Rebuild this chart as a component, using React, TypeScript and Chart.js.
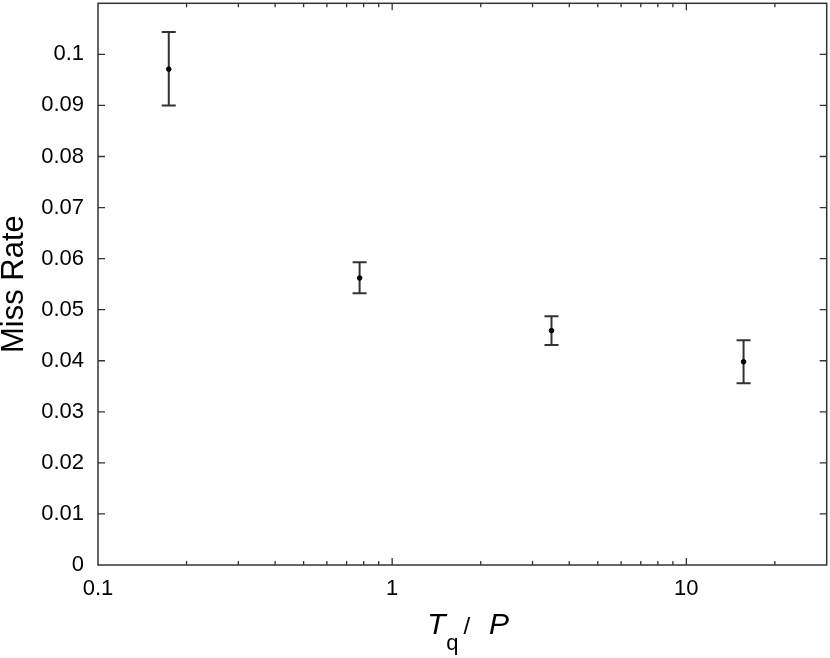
import { useEffect, useRef } from 'react';
import { Chart, registerables } from 'chart.js';

Chart.register(...registerables);

// ---- data ----
const ratioTqP = [0.174, 0.775, 3.48, 15.65];
const missRate = [0.0971, 0.0562, 0.0459, 0.0398];
const missRateLow = [0.0900, 0.0532, 0.0431, 0.0356];
const missRateHigh = [0.1044, 0.0593, 0.0487, 0.0440];
const xMajorTicks = [0.1, 1, 10];
const xTickLabels = ['0.1', '1', '10'];
const yTickValues = [0, 0.01, 0.02, 0.03, 0.04, 0.05, 0.06, 0.07, 0.08, 0.09, 0.1];
const yTickLabels = ['0', '0.01', '0.02', '0.03', '0.04', '0.05', '0.06', '0.07', '0.08', '0.09', '0.1'];

const FONT = '"Liberation Sans", Arial, Helvetica, sans-serif';
const AXIS_COLOR = '#333333';
const BAR_COLOR = '#333333';

const errorBarPlugin = {
  id: 'errorBars',
  beforeDatasetsDraw(chart: any) {
    const { ctx, scales } = chart;
    const xs = scales.x;
    const ys = scales.y;
    ctx.save();
    ctx.strokeStyle = BAR_COLOR;
    ctx.lineWidth = 2;
    const half = 7;
    for (let i = 0; i < ratioTqP.length; i++) {
      const px = xs.getPixelForValue(ratioTqP[i]);
      const pLo = ys.getPixelForValue(missRateLow[i]);
      const pHi = ys.getPixelForValue(missRateHigh[i]);
      ctx.beginPath();
      ctx.moveTo(px, pLo);
      ctx.lineTo(px, pHi);
      ctx.moveTo(px - half, pLo);
      ctx.lineTo(px + half, pLo);
      ctx.moveTo(px - half, pHi);
      ctx.lineTo(px + half, pHi);
      ctx.stroke();
    }
    ctx.restore();
  },
};

const framePlugin = {
  id: 'frameAndTicks',
  afterDraw(chart: any) {
    const { ctx, chartArea, scales } = chart;
    const { left, right, top, bottom } = chartArea;
    const xs = scales.x;
    const ys = scales.y;
    ctx.save();
    ctx.strokeStyle = AXIS_COLOR;
    ctx.lineWidth = 1.5;
    ctx.strokeRect(left, top, right - left, bottom - top);

    ctx.lineWidth = 1.3;
    ctx.beginPath();
    // y ticks (left and right, inward)
    for (const v of yTickValues) {
      const py = ys.getPixelForValue(v);
      if (v === 0) continue;
      ctx.moveTo(left, py);
      ctx.lineTo(left + 7, py);
      ctx.moveTo(right, py);
      ctx.lineTo(right - 7, py);
    }
    // x major ticks
    for (const v of xMajorTicks) {
      const px = xs.getPixelForValue(v);
      if (px <= left + 1) continue;
      ctx.moveTo(px, bottom);
      ctx.lineTo(px, bottom - 7);
      ctx.moveTo(px, top);
      ctx.lineTo(px, top + 7);
    }
    // x minor ticks
    for (const d of xMajorTicks) {
      for (let m = 2; m <= 9; m++) {
        const v = d * m;
        if (v > xs.max + 1e-9) continue;
        const px = xs.getPixelForValue(v);
        if (px >= right - 1) continue;
        ctx.moveTo(px, bottom);
        ctx.lineTo(px, bottom - 4);
        ctx.moveTo(px, top);
        ctx.lineTo(px, top + 4);
      }
    }
    ctx.stroke();

    // x axis title: T_q/ P
    ctx.fillStyle = '#000';
    ctx.textBaseline = 'alphabetic';
    ctx.textAlign = 'left';
    const cx = (left + right) / 2;
    let x = cx - 35;
    const base = 634;
    ctx.font = `italic 30px ${FONT}`;
    ctx.fillText('T', x, base);
    x += ctx.measureText('T').width + 0.5;
    ctx.font = `22px ${FONT}`;
    ctx.fillText('q', x, base + 16);
    x += ctx.measureText('q').width + 5;
    ctx.font = `24px ${FONT}`;
    ctx.fillText('/', x, base);
    x += ctx.measureText('/').width + 19;
    ctx.font = `italic 30px ${FONT}`;
    ctx.fillText('P', x, base);
    ctx.restore();
  },
};

export default function App() {
  const canvasRef = useRef<HTMLCanvasElement | null>(null);

  useEffect(() => {
    const canvas = canvasRef.current;
    if (!canvas) return;
    const chart = new Chart(canvas, {
      type: 'scatter',
      data: {
        datasets: [
          {
            label: 'Miss Rate',
            data: ratioTqP.map((x, i) => ({ x, y: missRate[i] })),
            backgroundColor: '#000',
            borderColor: '#000',
            pointRadius: 2.3,
            pointHoverRadius: 2.3,
            showLine: false,
          },
        ],
      },
      options: {
        responsive: false,
        animation: false,
        events: [],
        layout: { padding: { top: 3, right: 1.5, left: 0, bottom: 0 } },
        plugins: {
          legend: { display: false },
          tooltip: { enabled: false },
        },
        scales: {
          x: {
            type: 'logarithmic',
            min: 0.1,
            max: 30,
            grid: { display: false, drawTicks: false },
            border: { display: false },
            afterBuildTicks: (s: any) => {
              s.ticks = xMajorTicks.map((v) => ({ value: v, major: true }));
            },
            afterFit: (s: any) => {
              s.height = 93;
              s.paddingLeft = 0;
              s.paddingRight = 0;
            },
            ticks: {
              autoSkip: false,
              maxRotation: 0,
              padding: 11,
              color: '#000',
              font: { family: FONT, size: 22 },
              callback: (v: any) => {
                const i = xMajorTicks.findIndex((t) => Math.abs(t - Number(v)) < 1e-9);
                return i >= 0 ? xTickLabels[i] : '';
              },
            },
          },
          y: {
            type: 'linear',
            min: 0,
            max: 0.11,
            grid: { display: false, drawTicks: false },
            border: { display: false },
            afterBuildTicks: (s: any) => {
              s.ticks = yTickValues.map((v) => ({ value: v }));
            },
            afterFit: (s: any) => {
              s.width = 98;
              s.paddingTop = 0;
              s.paddingBottom = 0;
            },
            ticks: {
              padding: 14,
              color: '#000',
              font: { family: FONT, size: 22 },
              callback: (v: any) => {
                const i = yTickValues.findIndex((t) => Math.abs(t - Number(v)) < 1e-9);
                return i >= 0 ? yTickLabels[i] : '';
              },
            },
            title: {
              display: true,
              text: 'Miss Rate',
              color: '#000',
              font: { family: FONT, size: 31, lineHeight: 1 },
              padding: { top: -1, bottom: 0 },
            },
          },
        },
      },
      plugins: [errorBarPlugin, framePlugin],
    });
    return () => chart.destroy();
  }, []);

  return (
    <div style={{ position: 'absolute', left: 0, top: 0, width: 830, height: 658, background: '#fff' }}>
      <canvas ref={canvasRef} width={830} height={658} style={{ display: 'block' }} />
    </div>
  );
}
